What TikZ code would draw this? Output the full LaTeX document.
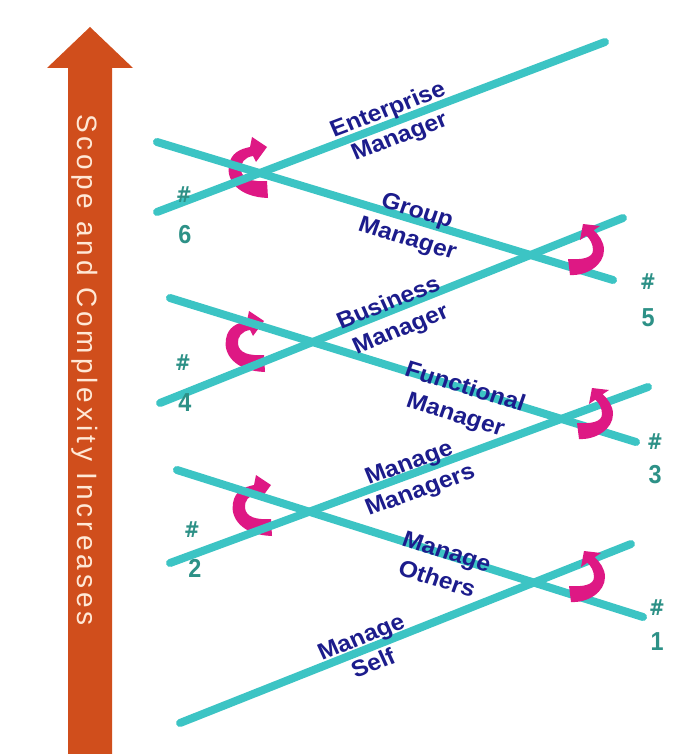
\documentclass[tikz,border=0pt]{standalone}
\usepackage{fontspec}
\setmainfont{Liberation Sans}
\newfontfamily\scopefont[LetterSpace=14]{Liberation Sans}
\newfontfamily\hashfont{DejaVu Sans}
\definecolor{barcol}{RGB}{60,196,196}
\definecolor{arrowcol}{RGB}{208,78,28}
\definecolor{scopetextcol}{RGB}{255,232,214}
\definecolor{labcol}{RGB}{28,28,140}
\definecolor{numcol}{RGB}{45,145,135}
\definecolor{curlcol}{RGB}{222,24,132}
\tikzset{
  bar/.style={draw=barcol, line width=8pt, line cap=round},
  lab/.style={text=labcol, font=\fontsize{23}{29}\selectfont\bfseries, align=center, inner sep=0pt, xscale=1.07},
  num/.style={text=numcol, font=\fontsize{26}{30}\selectfont\bfseries, inner sep=0pt, xscale=0.9},
  hashsign/.style={text=numcol, font=\hashfont\fontsize{22}{26}\selectfont\bfseries, inner sep=0pt, xscale=0.85},
  scopetext/.style={text=scopetextcol, font=\scopefont\fontsize{28}{32}\selectfont, inner sep=0pt},
  curlL/.pic={
    \fill[curlcol] (20,30) .. controls (-10,29) and (-22,12) .. (-19,-3)
      .. controls (-17,-15) and (-8,-19) .. (2,-21) -- (4,-31) -- (19,-21) -- (8,-6) -- (5,-12)
      .. controls (-3,-11) and (-8,-5) .. (-7,2)
      .. controls (-6,11) and (4,14) .. (19,13) -- cycle;
  },
  curlR/.pic={
    \fill[curlcol] (-17,25) .. controls (0,26) and (17,15) .. (17,0)
      .. controls (17,-8) and (12,-15) .. (6.6,-19.7) -- (13,-24) -- (-4,-26) -- (-7,-10) -- (-0.6,-14.3)
      .. controls (3,-11) and (6,-6) .. (6,0)
      .. controls (6,8) and (-5,10) .. (-19,9) -- cycle;
  }
}
\begin{document}
\begin{tikzpicture}[x=1pt,y=-1pt]
\useasboundingbox (0,0) rectangle (673,754);
\fill[white] (0,0) rectangle (673,754);
% big orange arrow
\fill[arrowcol] (68,754) -- (68,68) -- (47,68) -- (90,27) -- (133,68) -- (112,68) -- (112,754) -- cycle;
\node[scopetext, rotate=-90, anchor=base] (scope) at (77,370) {Scope and Complexity Increases};
% curved transition arrows on the left (behind the bars)
\pic (c6) at (248,168) {curlL};
\pic (c4) at (245,342) {curlL};
\pic (c2) at (252,506) {curlL};
% end points of the bars
\coordinate (ent-a) at (157,212); \coordinate (ent-b) at (605,42);
\coordinate (grp-a) at (157,142); \coordinate (grp-b) at (613,280);
\coordinate (bus-a) at (160,403); \coordinate (bus-b) at (623,218);
\coordinate (fun-a) at (170,298); \coordinate (fun-b) at (636,442);
\coordinate (mm-a) at (170,563);  \coordinate (mm-b) at (648,387);
\coordinate (oth-a) at (177,470); \coordinate (oth-b) at (643,617);
\coordinate (self-a) at (180,723); \coordinate (self-b) at (631,544);
\draw[bar] (ent-a) -- (ent-b);
\draw[bar] (grp-a) -- (grp-b);
\draw[bar] (bus-a) -- (bus-b);
\draw[bar] (fun-a) -- (fun-b);
\draw[bar] (mm-a) -- (mm-b);
\draw[bar] (oth-a) -- (oth-b);
\draw[bar] (self-a) -- (self-b);
% curved transition arrows on the right
\pic (c5) at (587,250) {curlR};
\pic (c3) at (596,414) {curlR};
\pic (c1) at (588,577) {curlR};
% labels
\node[lab, rotate=22] (ent) at (394,124) {Enterprise\\Manager};
\node[lab, rotate=-18] (grp) at (412,226) {Group\\Manager};
\node[lab, rotate=23] (bus) at (395,317) {Business\\Manager};
\node[lab, rotate=-18] (fun) at (460,402) {Functional\\Manager};
\node[lab, rotate=21] (mm) at (415,478) {Manage\\Managers};
\node[lab, rotate=-18.5] (oth) at (442,565) {Manage\\Others};
\node[lab, rotate=23] (self) at (367,650) {Manage\\Self};
% level numbers
\node[hashsign] (h6) at (184,195) {\#}; \node[num] (n6) at (185,235) {6};
\node[hashsign] (h4) at (183,363) {\#}; \node[num] (n4) at (185,403) {4};
\node[hashsign] (h2) at (192,530) {\#}; \node[num] (n2) at (195,568) {2};
\node[hashsign] (h5) at (648,282) {\#}; \node[num] (n5) at (648,318) {5};
\node[hashsign] (h3) at (655,442) {\#}; \node[num] (n3) at (655,475) {3};
\node[hashsign] (h1) at (657,608) {\#}; \node[num] (n1) at (657,642) {1};
\end{tikzpicture}
\end{document}
